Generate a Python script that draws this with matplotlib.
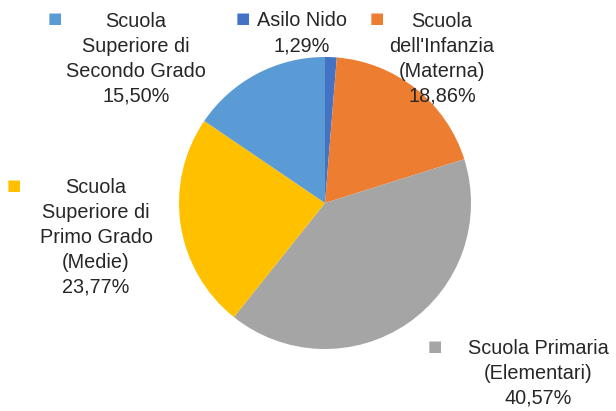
import numpy as np
import matplotlib
matplotlib.use('Agg')
import matplotlib.pyplot as plt

# data, clockwise from 12 o'clock
labels = ['Asilo Nido',
          "Scuola\ndell'Infanzia\n(Materna)",
          'Scuola Primaria\n(Elementari)',
          'Scuola\nSuperiore di\nPrimo Grado\n(Medie)',
          'Scuola\nSuperiore di\nSecondo Grado']
values = [1.29, 18.86, 40.57, 23.77, 15.50]
colors = ['#4472C4', '#ED7D31', '#A5A5A5', '#FFC000', '#5B9BD5']

W, H = 616, 411
fig = plt.figure(figsize=(W / 100, H / 100), dpi=100)
ax = fig.add_axes([0, 0, 1, 1])
ax.set_xlim(0, W)
ax.set_ylim(0, H)
ax.set_aspect('equal')
ax.axis('off')

cx, cy, r = 325, H - 203, 146
ax.pie(values, colors=colors, startangle=90, counterclock=False,
       center=(cx, cy), radius=r, wedgeprops=dict(linewidth=0))
ax.set_xlim(0, W)
ax.set_ylim(0, H)

# label block centre (pixels from top-left), legend key position
label_pos = [(302, 33), (442, 59), (538, 373), (96, 237), (136, 59)]
key_pos = [(243, 19), (377, 19), (435, 346), (14, 186), (55, 19)]

for lab, val, col, (tx, ty), (kx, ky) in zip(labels, values, colors, label_pos, key_pos):
    txt = lab + '\n' + ('%.2f%%' % val).replace('.', ',')
    ax.text(tx, H - ty, txt, ha='center', va='center', fontsize=14.3,
            family='Liberation Sans', color='#262626', linespacing=1.4)
    ax.text(kx, H - ky, '\u25a0', ha='center', va='center', fontsize=11,
            family='DejaVu Sans', color=col)

fig.savefig('out.png', dpi=100, facecolor='white')
